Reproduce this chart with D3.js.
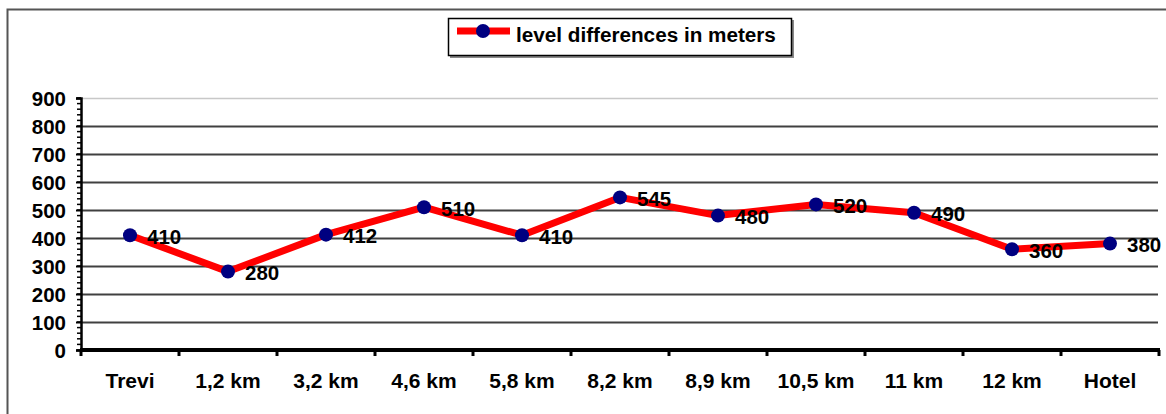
<!DOCTYPE html>
<html><head><meta charset="utf-8">
<script src="https://cdn.jsdelivr.net/npm/d3@7"></script>
<style>body{margin:0;background:#fff}svg{display:block}text{font-family:Arial,"Liberation Sans",sans-serif;font-weight:bold;fill:#000}</style>
</head><body>
<script>
const categories = ["Trevi","1,2 km","3,2 km","4,6 km","5,8 km","8,2 km","8,9 km","10,5 km","11 km","12 km","Hotel"];
const values = [410,280,412,510,410,545,480,520,490,360,380];
const yTicks = [0,100,200,300,400,500,600,700,800,900];
const seriesName = "level differences in meters";

const W=1166,H=414;
const svg=d3.select("body").append("svg").attr("width",W).attr("height",H);
// outer frame (cropped on right/bottom)
svg.append("path").attr("d",`M7.5,${H+2}V9.5H${W+2}`).attr("fill","none").attr("stroke","#555").attr("stroke-width",2);

const x=d3.scaleBand().domain(categories).range([81,1159]).padding(0);
const y=d3.scaleLinear().domain([0,900]).range([350,98]);

// gridlines
svg.append("g").selectAll("line").data(yTicks.filter(d=>d>0)).join("line")
 .attr("x1",82).attr("x2",1158).attr("y1",d=>y(d)+0.5).attr("y2",d=>y(d)+0.5)
 .attr("stroke",d=>d===900?"#c8c8c8":"#404040").attr("stroke-width",d=>d===900?1.5:2);

// y axis
const yAxis=d3.axisLeft(y).tickValues(yTicks).tickSize(5).tickPadding(10).tickFormat(d3.format("d"));
const ya=svg.append("g").attr("transform","translate(81,0)").call(yAxis);
ya.select(".domain").attr("stroke","#000").attr("stroke-width",2.5);
ya.selectAll(".tick line").attr("stroke","#000").attr("stroke-width",2);
ya.selectAll("text").attr("font-size",20.5).attr("font-weight","bold").attr("font-family","Arial, 'Liberation Sans', sans-serif").attr("dy","0.36em");
// minor ticks
svg.append("g").selectAll("line").data(d3.range(0,901,20)).join("line")
 .attr("x1",77).attr("x2",81).attr("y1",d=>y(d)).attr("y2",d=>y(d)).attr("stroke","#000").attr("stroke-width",1.5);

// x axis
const xa=svg.append("g").attr("transform","translate(0,350)");
xa.append("line").attr("x1",80).attr("x2",1160).attr("y1",0).attr("y2",0).attr("stroke","#000").attr("stroke-width",4);
xa.selectAll(".bt").data(categories.map(c=>x(c)).concat([x.range()[1]])).join("line")
 .attr("x1",d=>d).attr("x2",d=>d).attr("y1",0).attr("y2",6).attr("stroke","#000").attr("stroke-width",3);
xa.selectAll("text").data(categories).join("text")
 .attr("x",d=>x(d)+x.bandwidth()/2).attr("y",38).attr("text-anchor","middle").attr("font-size",21).text(d=>d);

// line
const line=d3.line().x((d,i)=>x(categories[i])+x.bandwidth()/2).y(d=>y(d));
svg.append("path").datum(values).attr("d",line).attr("fill","none").attr("stroke","#ff0000").attr("stroke-width",7).attr("stroke-linejoin","round");
svg.append("g").selectAll("circle").data(values).join("circle")
 .attr("cx",(d,i)=>x(categories[i])+x.bandwidth()/2).attr("cy",d=>y(d)).attr("r",7).attr("fill","#000080");
svg.append("g").selectAll("text").data(values).join("text")
 .attr("x",(d,i)=>x(categories[i])+x.bandwidth()/2+17).attr("y",d=>y(d)+1).attr("dy","0.36em")
 .attr("font-size",20.5).text(d=>d);

// legend
const lg=svg.append("g");
lg.append("rect").attr("x",450).attr("y",20).attr("width",344).attr("height",38).attr("fill","#888");
lg.append("rect").attr("x",448.5).attr("y",18.5).attr("width",343).attr("height",37).attr("fill","#fff").attr("stroke","#000").attr("stroke-width",1.5);
lg.append("line").attr("x1",457).attr("x2",510).attr("y1",31).attr("y2",31).attr("stroke","#ff0000").attr("stroke-width",7);
lg.append("circle").attr("cx",483).attr("cy",31).attr("r",7).attr("fill","#000080");
lg.append("text").attr("x",516).attr("y",42).attr("font-size",20.7).text(seriesName);
</script>
</body></html>
